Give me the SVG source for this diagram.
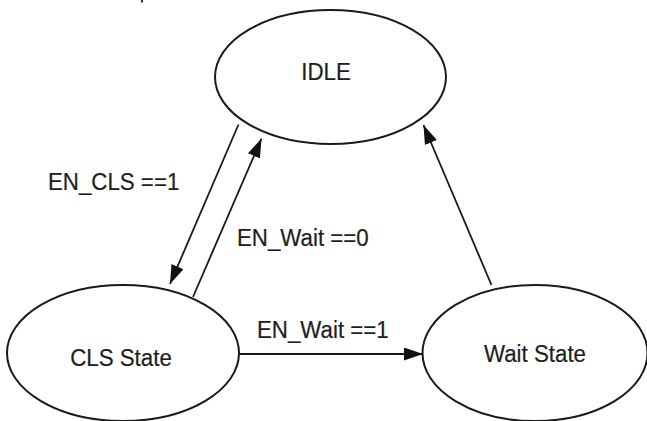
<svg xmlns="http://www.w3.org/2000/svg" width="647" height="421" viewBox="0 0 647 421">
  <style>
    .state { fill: #ffffff; stroke: #1a1a1a; stroke-width: 2; }
    .label { font-family: "Liberation Sans", Arial, sans-serif; font-size: 22.3px; fill: #1e1e1e; stroke: #1e1e1e; stroke-width: 0.2; }
    .mid { text-anchor: middle; }
    .edge { fill: none; stroke: #1a1a1a; stroke-width: 1.8; marker-end: url(#arrow); }
  </style>
  <defs>
    <marker id="arrow" markerUnits="userSpaceOnUse" markerWidth="20" markerHeight="14" refX="19" refY="6.5" orient="auto">
      <path d="M0,0 L19,6.5 L0,13 Z" fill="#111111"/>
    </marker>
  </defs>

  <rect width="647" height="421" fill="#ffffff"/>
  <!-- stray mark at top edge -->
  <rect x="141" y="0" width="2" height="2.5" fill="#333333"/>

  <g id="idle">
    <ellipse class="state" cx="330.5" cy="77" rx="115.5" ry="67"/>
    <text class="label mid" transform="translate(326,80) scale(1,1.08)">IDLE</text>
  </g>

  <g id="cls-state">
    <ellipse class="state" cx="123" cy="353" rx="116" ry="68"/>
    <text class="label mid" transform="translate(121,365.5) scale(1,1.08)">CLS State</text>
  </g>

  <g id="wait-state">
    <ellipse class="state" cx="535" cy="353" rx="112.5" ry="68"/>
    <text class="label mid" transform="translate(535,362) scale(1,1.08)">Wait State</text>
  </g>

  <g id="connectors">
    <!-- IDLE to CLS State -->
    <path class="edge" d="M238.5,124.5 L170,284"/>
    <!-- CLS State to IDLE -->
    <path class="edge" d="M193,297 L261.5,138.5"/>
    <!-- CLS State to Wait State -->
    <path class="edge" d="M239,354 L423,354"/>
    <!-- Wait State to IDLE -->
    <path class="edge" d="M491.5,285 L423.5,125"/>

    <text class="label" transform="translate(48,190) scale(1,1.08)">EN_CLS ==1</text>
    <text class="label" transform="translate(237,245.5) scale(1,1.08)">EN_Wait ==0</text>
    <text class="label" transform="translate(257,337.5) scale(1,1.08)">EN_Wait ==1</text>
  </g>
</svg>
